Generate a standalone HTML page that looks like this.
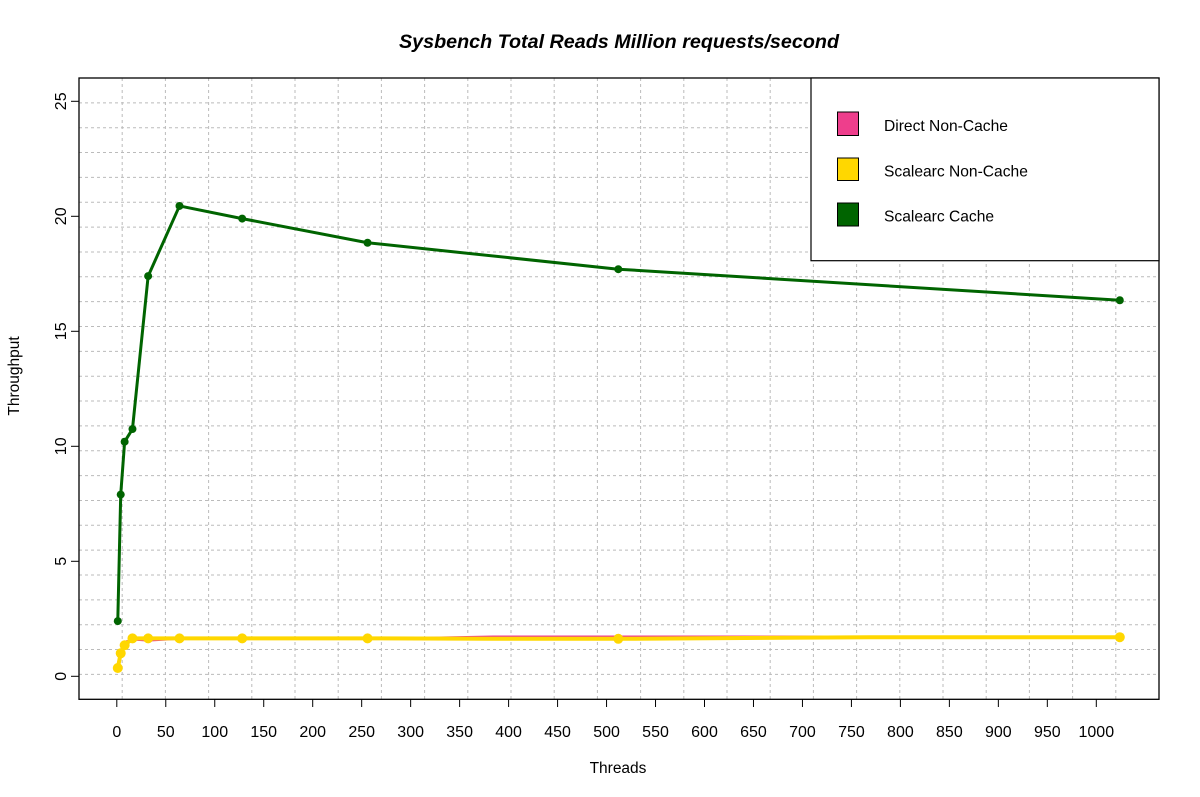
<!DOCTYPE html>
<html><head><meta charset="utf-8"><style>
body{margin:0;background:#fff}
svg{display:block;font-family:"Liberation Sans",Arial,sans-serif}
</style></head><body>
<svg id="chart" width="1200" height="797" viewBox="0 0 1200 797">
<rect width="1200" height="797" fill="#fff"/>
<text x="619" y="48" text-anchor="middle" font-size="19" font-weight="bold" font-style="italic" textLength="440" lengthAdjust="spacingAndGlyphs">Sysbench Total Reads Million requests/second</text>
<g id="grid"></g>
<g id="series"></g>
<rect x="79" y="78" width="1080" height="621.3" fill="none" stroke="#000" stroke-width="1.3"/>
<g id="axes"></g>
<text x="618" y="773" text-anchor="middle" font-size="15.5">Threads</text>
<text transform="translate(19,376) rotate(-90)" text-anchor="middle" font-size="15.5">Throughput</text>
<g>
<rect x="811" y="78" width="348" height="182.7" fill="#fff" stroke="#000" stroke-width="1.2"/>
<rect x="837.5" y="112" width="21" height="23.5" fill="#EE3E8C" stroke="#000"/>
<text x="884" y="131" font-size="15.6">Direct Non-Cache</text>
<rect x="837.5" y="158" width="21" height="22.5" fill="#FFD700" stroke="#000"/>
<text x="884" y="176.5" font-size="15.6">Scalearc Non-Cache</text>
<rect x="837.5" y="203" width="21" height="23" fill="#006400" stroke="#000"/>
<text x="884" y="221.5" font-size="15.6">Scalearc Cache</text>
</g>
</svg>
<script>
const threadsA = [1,4,8,16,32,64,128,256,512,1024];
const threadsB = [1,4,8,16,32,64,128,256,384,512,768,1024];
const directVals = [0.4,1.1,1.5,1.6,1.55,1.63,1.63,1.63,1.73,1.73,1.73,1.7];
const scalearcVals = [0.36,1.0,1.35,1.65,1.65,1.65,1.65,1.65,1.63,1.63,1.7,1.7];
const scalearcPtsX = [1,4,8,16,32,64,128,256,512,1024];
const cacheVals = [2.4,7.9,10.2,10.75,17.4,20.45,19.9,18.85,17.7,16.35];
const xTicks = [0,50,100,150,200,250,300,350,400,450,500,550,600,650,700,750,800,850,900,950,1000];
const yTicks = [0,5,10,15,20,25];

const NS='http://www.w3.org/2000/svg';
function X(v){return 116.8+v*0.9795;}
function Y(v){return 676.3-v*23.0;}
function mk(tag,attrs,parent){const e=document.createElementNS(NS,tag);for(const k in attrs)e.setAttribute(k,attrs[k]);parent.appendChild(e);return e;}
const grid=document.getElementById('grid'),axes=document.getElementById('axes'),series=document.getElementById('series');
for(let k=1;k<25;k++){
  const gx=mk('line',{x1:79+k*43.2,x2:79+k*43.2,y1:78,y2:699,stroke:'#bbb','stroke-dasharray':'3,3'},grid);
  
  
  const gy=mk('line',{x1:79,x2:1159,y1:78+k*24.85,y2:78+k*24.85,stroke:'#bbb','stroke-dasharray':'3,3'},grid);
  
  
}
xTicks.forEach(t=>{
  const l=mk('line',{x1:X(t),x2:X(t),y1:699,y2:707,stroke:'#000'},axes);
  
  
  const tx=mk('text',{x:X(t),y:737,'text-anchor':'middle','font-size':'16'},axes);
  tx.textContent=t;
  
  
});
yTicks.forEach(t=>{
  const l=mk('line',{x1:71,x2:79,y1:Y(t),y2:Y(t),stroke:'#000'},axes);
  
  
  const tx=mk('text',{transform:`translate(66,${Y(t)}) rotate(-90)`,'text-anchor':'middle','font-size':'16'},axes);
  tx.textContent=t;
  
  
});
function line(xs,vs,color,w,name){
  const p=mk('polyline',{points:xs.map((x,i)=>X(x)+','+Y(vs[i])).join(' '),fill:'none',stroke:color,'stroke-width':w,'stroke-linejoin':'round'},series);
  
  
}
line(threadsB,directVals,'#EE3E8C',2,'line-direct-noncache');
line(threadsB,scalearcVals,'#FFD700',4,'line-scalearc-noncache');
scalearcPtsX.forEach(x=>{const i=threadsB.indexOf(x);const c=mk('circle',{cx:X(x),cy:Y(scalearcVals[i]),r:5,fill:'#FFD700'},series);
  
  });
line(threadsA,cacheVals,'#006400',3,'line-scalearc-cache');
threadsA.forEach((x,i)=>{const c=mk('circle',{cx:X(x),cy:Y(cacheVals[i]),r:4,fill:'#006400'},series);
  
  });
</script>
</body></html>
